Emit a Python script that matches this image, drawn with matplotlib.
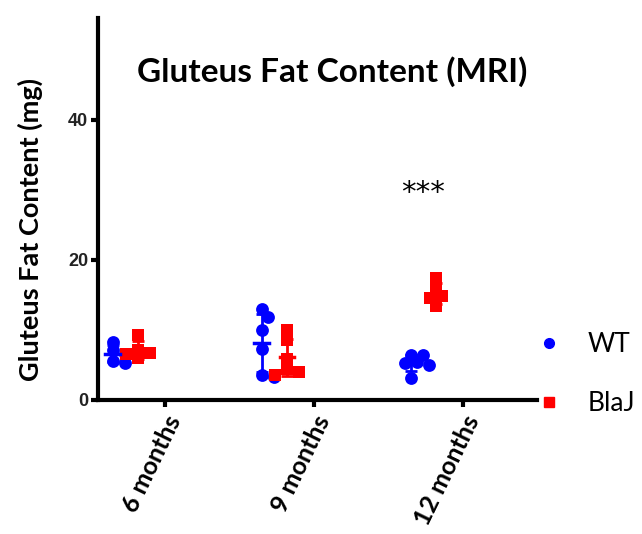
import numpy as np
import matplotlib.pyplot as plt
from matplotlib.lines import Line2D

plt.rcParams['font.family'] = ['Lato', 'DejaVu Sans']

# Gluteus fat content (mg) measured by MRI, per age group
groups = ['6 months', '9 months', '12 months']
wt_values = [
    [8.3, 7.1, 6.6, 5.6, 5.3],
    [13.0, 11.9, 10.0, 7.3, 3.5, 3.3],
    [6.4, 6.4, 5.4, 5.3, 5.0, 3.2],
]
blaj_values = [
    [9.3, 7.2, 6.7, 6.5, 6.0],
    [10.0, 8.6, 5.8, 4.4, 4.0, 3.6],
    [17.4, 15.8, 14.8, 14.5, 13.4],
]
significance = ['', '', '***']
sig_height = 29.5

WT_COLOR = '#0000ff'
BLAJ_COLOR = '#ff0000'


def swarm_offsets(ax, xc, vals, diam_px):
    """simple beeswarm: push points sideways until they don't overlap too much"""
    order = np.argsort(vals)[::-1]
    placed = []
    offs = np.zeros(len(vals))
    px_per_x = abs(ax.transData.transform((1, 0))[0] - ax.transData.transform((0, 0))[0])
    px_per_y = abs(ax.transData.transform((0, 1))[1] - ax.transData.transform((0, 0))[1])
    for i in order:
        y = vals[i] * px_per_y
        for k in [0, 1, -1, 2, -2, 3, -3]:
            x = k * diam_px * 0.5
            if all((x - px) ** 2 + (y - py) ** 2 >= (diam_px * 0.7) ** 2 for px, py in placed):
                break
        placed.append((x, y))
        offs[i] = x / px_per_x
    return xc + offs


fig = plt.figure(figsize=(6.42, 5.34), dpi=100)
ax = fig.add_axes([98 / 642, 1 - 400 / 534, (537 - 98) / 642, (400 - 18) / 534])
ax.set_xlim(-0.45, 2.5)
ax.set_ylim(0, 54.5)

x = np.arange(len(groups))
wt_pos = x - 0.35
blaj_pos = x - 0.18

for i in range(len(groups)):
    wt = np.array(wt_values[i])
    bj = np.array(blaj_values[i])
    for pos, vals, color, marker in [(wt_pos[i], wt, WT_COLOR, 'o'),
                                     (blaj_pos[i], bj, BLAJ_COLOR, 's')]:
        xs = swarm_offsets(ax, pos, vals, 12)
        ax.scatter(xs, vals, s=85, marker=marker, color=color, linewidths=0, zorder=3)
        m, sd = vals.mean(), vals.std(ddof=1)
        ax.errorbar(pos, m, yerr=sd, color=color, capsize=4, capthick=2,
                    elinewidth=2, zorder=4)
        ax.plot([pos - 0.05, pos + 0.05], [m, m], color=color, lw=2.5, zorder=4)
    if significance[i]:
        ax.text((wt_pos[i] + blaj_pos[i]) / 2, sig_height, significance[i],
                ha='center', va='center', fontsize=21, family='DejaVu Sans')

for side in ['top', 'right']:
    ax.spines[side].set_visible(False)
for side in ['left', 'bottom']:
    ax.spines[side].set_linewidth(3)

ax.set_yticks([0, 20, 40])
ax.set_yticklabels(['0', '20', '40'], fontsize=13, fontweight='bold',
                   family='Liberation Sans', color='#222222')
ax.set_xticks(x)
ax.set_xticklabels(groups, rotation=64, ha='right', va='top', rotation_mode='anchor',
                   fontsize=18, fontweight='bold')
ax.tick_params(axis='both', width=3, length=5)
ax.tick_params(axis='y', pad=2)

fig.text(30 / 642, 1 - 230 / 534, 'Gluteus Fat Content (mg)', rotation=90,
         ha='center', va='center', fontsize=19.5, fontweight='bold')
fig.text(332 / 642, 1 - 72 / 534, 'Gluteus Fat Content (MRI)',
         ha='center', va='center', fontsize=24, fontweight='bold')

handles = [Line2D([], [], ls='none', marker='o', color=WT_COLOR, markersize=7),
           Line2D([], [], ls='none', marker='s', color=BLAJ_COLOR, markersize=7)]
fig.legend(handles, ['WT', 'BlaJ'], loc='center left',
           bbox_to_anchor=(517 / 642, 1 - 374 / 534), frameon=False,
           fontsize=19, labelspacing=1.3, handlelength=0.6, handletextpad=1.17)

fig.savefig('out.png', dpi=100)
